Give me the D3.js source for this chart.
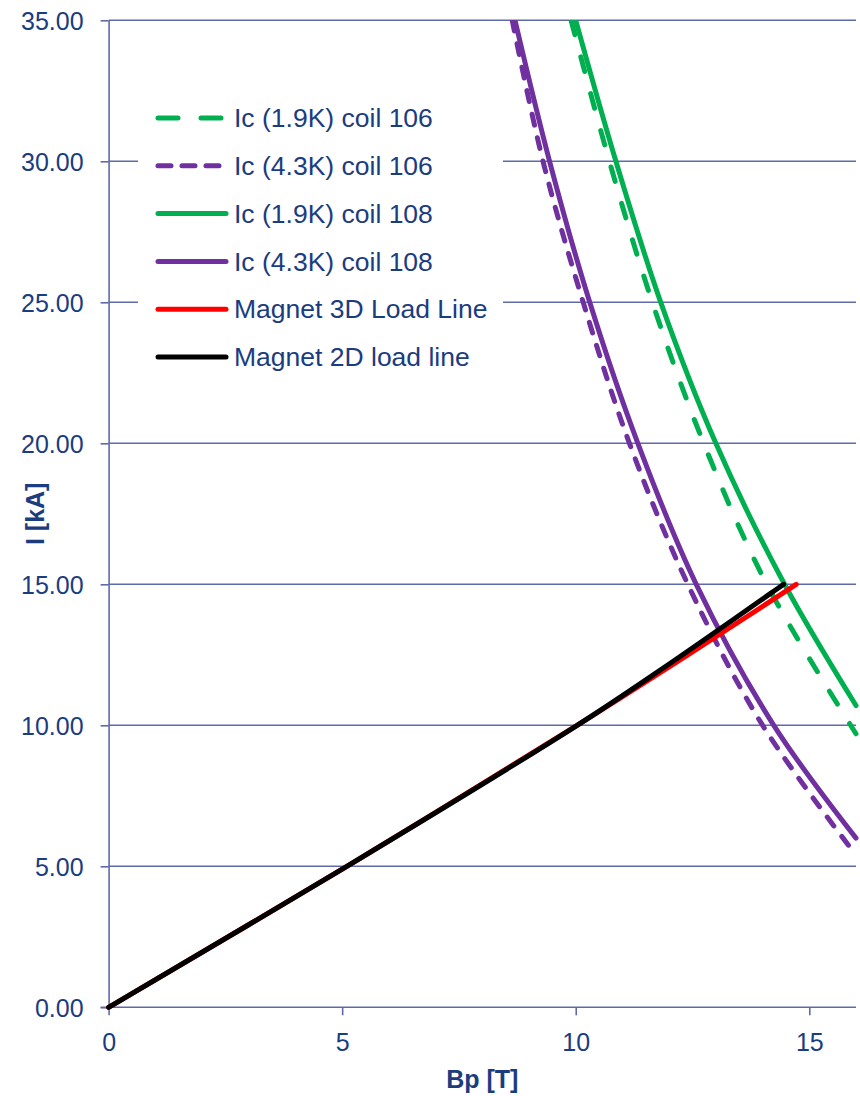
<!DOCTYPE html>
<html>
<head>
<meta charset="utf-8">
<script src="https://cdn.jsdelivr.net/npm/d3@7"></script>
<style>
  html, body { margin: 0; padding: 0; background: #fff; }
  svg { display: block; font-family: "Liberation Sans", Arial, sans-serif; }
</style>
</head>
<body>
<svg id="chart" width="860" height="1096"></svg>
<script>
// Critical current curves and magnet load lines: B peak [T] vs current [kA]
const icCoil106_19K_B = [9.90, 10.72, 11.64, 12.74, 14.09, 16.00];
const icCoil106_19K_I = [35.0, 30.0, 25.0, 20.0, 15.0, 9.7];

const icCoil106_43K_B = [8.64, 9.30, 10.16, 11.15, 12.40, 14.00, 16.00];
const icCoil106_43K_I = [35.0, 30.0, 25.0, 20.0, 15.0, 10.0, 5.4];

const icCoil108_19K_B = [10.00, 10.86, 11.82, 13.00, 14.47, 16.00];
const icCoil108_19K_I = [35.0, 30.0, 25.0, 20.0, 15.0, 10.7];

const icCoil108_43K_B = [8.70, 9.44, 10.30, 11.33, 12.58, 14.24, 16.00];
const icCoil108_43K_I = [35.0, 30.0, 25.0, 20.0, 15.0, 10.0, 6.0];

const loadLine3D_B = [0, 5.10, 10.03, 12.50, 14.72];
const loadLine3D_I = [0, 5.0, 10.0, 12.60, 15.0];

const loadLine2D_B = [0, 5.10, 10.03, 11.81, 14.45];
const loadLine2D_I = [0, 5.0, 10.0, 11.96, 15.0];

const seriesNames = [
  "Ic (1.9K) coil 106",
  "Ic (4.3K) coil 106",
  "Ic (1.9K) coil 108",
  "Ic (4.3K) coil 108",
  "Magnet 3D Load Line",
  "Magnet 2D load line"
];

const xTicks = [0, 5, 10, 15];
const yTicks = [0, 5, 10, 15, 20, 25, 30, 35];
const xTitle = "Bp [T]";
const yTitle = "I [kA]";

// ---- layout ----
const svg = d3.select("#chart");
const margin = { left: 108.6, right: 4, top: 20.3, bottom: 88.7 };
const W = 860, H = 1096;
const x = d3.scaleLinear().domain([0, 16]).range([margin.left, W - margin.right]);
const y = d3.scaleLinear().domain([0, 35]).range([H - margin.bottom, margin.top]);

const textColor = "#1B3C7E";
const axisColor = "#5F6AAA";
const fontSize = 25;
const legendFontSize = 26.5;

const zip = (bs, is) => bs.map((b, i) => ({ b, i: is[i] }));

const series = [
  { name: seriesNames[0], data: zip(icCoil106_19K_B, icCoil106_19K_I), color: "#00B050", dash: "15,23" },
  { name: seriesNames[1], data: zip(icCoil106_43K_B, icCoil106_43K_I), color: "#7030A0", dash: "11,13" },
  { name: seriesNames[2], data: zip(icCoil108_19K_B, icCoil108_19K_I), color: "#00B050", dash: null },
  { name: seriesNames[3], data: zip(icCoil108_43K_B, icCoil108_43K_I), color: "#7030A0", dash: null },
  { name: seriesNames[4], data: zip(loadLine3D_B, loadLine3D_I), color: "#FF0000", dash: null },
  { name: seriesNames[5], data: zip(loadLine2D_B, loadLine2D_I), color: "#000000", dash: null }
];

// ---- gridlines ----
svg.append("g")
  .selectAll("line")
  .data(yTicks.filter(t => t > 0))
  .join("line")
  .attr("x1", x(0)).attr("x2", x(16))
  .attr("y1", d => y(d)).attr("y2", d => y(d))
  .attr("stroke", axisColor).attr("stroke-width", 1.6);

// ---- axes ----
const yAxis = svg.append("g")
  .attr("transform", `translate(${x(0)},0)`)
  .call(d3.axisLeft(y).tickValues(yTicks).tickFormat(d3.format(".2f")).tickSize(8).tickPadding(17).tickSizeOuter(0));
const xAxis = svg.append("g")
  .attr("transform", `translate(0,${y(0)})`)
  .call(d3.axisBottom(x).tickValues(xTicks).tickFormat(d3.format("d")).tickSize(8).tickPadding(18).tickSizeOuter(0));

// extend x-axis line left across the y tick
xAxis.select(".domain").attr("d", `M${x(0) - 8},0H${x(16)}`);

[xAxis, yAxis].forEach(a => {
  a.selectAll(".domain, .tick line").attr("stroke", axisColor).attr("stroke-width", 1.6);
  a.selectAll(".tick text")
    .attr("fill", textColor)
    .attr("font-size", fontSize)
    .attr("font-family", "Liberation Sans, Arial, sans-serif");
});
yAxis.selectAll(".tick text").attr("dy", "0.36em");

// ---- axis titles ----
svg.append("text")
  .attr("x", (x(0) + x(16)) / 2)
  .attr("y", 1088)
  .attr("text-anchor", "middle")
  .attr("font-size", fontSize)
  .attr("font-weight", "bold")
  .attr("fill", textColor)
  .text(xTitle);

svg.append("text")
  .attr("transform", `translate(44,${(y(0) + y(35)) / 2}) rotate(-90)`)
  .attr("text-anchor", "middle")
  .attr("font-size", fontSize)
  .attr("font-weight", "bold")
  .attr("fill", textColor)
  .text(yTitle);

// ---- legend (white box over gridlines) ----
const legend = svg.append("g");
legend.append("rect")
  .attr("x", 138).attr("y", 92)
  .attr("width", 365).attr("height", 290)
  .attr("fill", "#fff");

const legendY0 = 118, legendStep = 47.8;
series.forEach((s, k) => {
  const ly = legendY0 + k * legendStep;
  legend.append("line")
    .attr("x1", 158).attr("x2", 226)
    .attr("y1", ly).attr("y2", ly)
    .attr("stroke", s.color)
    .attr("stroke-width", 5)
    .attr("stroke-linecap", "round")
    .attr("stroke-dasharray", s.dash ? (k === 0 ? "20,23" : "13,11") : null);
  legend.append("text")
    .attr("x", 234).attr("y", ly)
    .attr("dy", "0.35em")
    .attr("font-size", legendFontSize)
    .attr("fill", textColor)
    .text(s.name);
});

// ---- curves ----
svg.append("clipPath").attr("id", "plotClip")
  .append("rect")
  .attr("x", x(0) - 3).attr("y", y(35))
  .attr("width", x(16) - x(0) + 6).attr("height", y(0) - y(35) + 3);

const line = d3.line()
  .x(d => x(d.b))
  .y(d => y(d.i))
  .curve(d3.curveCatmullRom.alpha(0.5));

svg.append("g")
  .attr("clip-path", "url(#plotClip)")
  .selectAll("path")
  .data(series)
  .join("path")
  .attr("d", d => line(d.data))
  .attr("fill", "none")
  .attr("stroke", d => d.color)
  .attr("stroke-width", 5)
  .attr("stroke-linecap", "round")
  .attr("stroke-linejoin", "round")
  .attr("stroke-dasharray", d => d.dash);
</script>
</body>
</html>
